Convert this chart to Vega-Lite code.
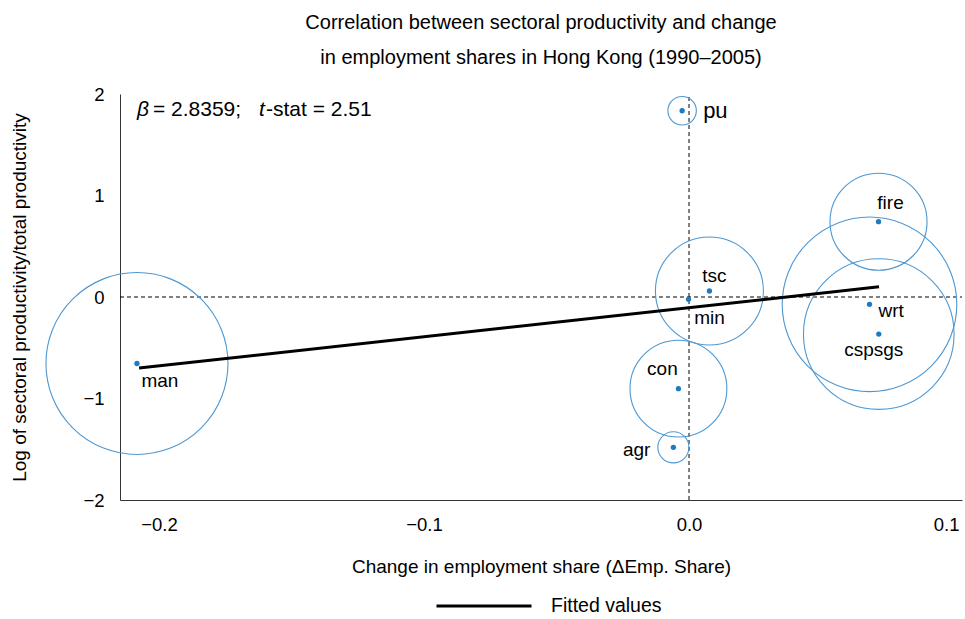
{
  "$schema": "https://vega.github.io/schema/vega-lite/v6.json",
  "width": 842,
  "height": 406,
  "autosize": "none",
  "padding": {"left": 120, "top": 94, "right": 3, "bottom": 119},
  "background": "white",
  "config": {
    "view": {"stroke": null},
    "axis": {"grid": false, "ticks": false, "domainColor": "#333", "domainWidth": 1, "labelColor": "#000", "titleColor": "#000", "labelFont": "Liberation Sans", "titleFont": "Liberation Sans", "labelFontSize": 18.5, "titleFontSize": 19, "titleFontWeight": "normal"}
  },
  "title": {
    "text": ["Correlation between sectoral productivity and change", "in employment shares in Hong Kong (1990–2005)"],
    "font": "Liberation Sans", "fontSize": 20, "fontWeight": "normal", "color": "#000", "lineHeight": 35, "offset": 17, "anchor": "middle"
  },
  "data": {"values": [
    {"sector": "man", "dEmp": -0.2083, "logProd": -0.655, "weight": 16.40},
    {"sector": "pu", "dEmp": -0.0026, "logProd": 1.835, "weight": 0.40},
    {"sector": "tsc", "dEmp": 0.0077, "logProd": 0.059, "weight": 5.77},
    {"sector": "min", "dEmp": -0.0002, "logProd": -0.023, "weight": 0.005},
    {"sector": "con", "dEmp": -0.0040, "logProd": -0.903, "weight": 4.64},
    {"sector": "agr", "dEmp": -0.0059, "logProd": -1.481, "weight": 0.48},
    {"sector": "fire", "dEmp": 0.0715, "logProd": 0.742, "weight": 4.66},
    {"sector": "wrt", "dEmp": 0.0681, "logProd": -0.072, "weight": 15.09},
    {"sector": "cspsgs", "dEmp": 0.0716, "logProd": -0.365, "weight": 11.23}
  ]},
  "encoding": {
    "x": {"field": "dEmp", "type": "quantitative",
      "scale": {"domain": [-0.2147, 0.103], "nice": false, "zero": false},
      "axis": {"values": [-0.2, -0.1, 0, 0.1], "labelExpr": "replace(format(datum.value, '.1f'), '-', '−')", "labelPadding": 15, "labelFlush": 10, "labelFlushOffset": 5, "title": "Change in employment share (ΔEmp. Share)", "titlePadding": 24}},
    "y": {"field": "logProd", "type": "quantitative",
      "scale": {"domain": [-2, 2], "nice": false, "zero": false},
      "axis": {"values": [-2, -1, 0, 1, 2], "labelExpr": "replace(format(datum.value, 'd'), '-', '−')", "labelPadding": 16, "labelFlush": false, "title": "Log of sectoral productivity/total productivity", "titlePadding": 53}}
  },
  "layer": [
    {"data": {"values": [{"dEmp": 0, "logProd": -2}, {"dEmp": 0, "logProd": 2}]}, "mark": {"type": "line", "color": "#000", "strokeWidth": 1, "strokeDash": [4, 3]}, "encoding": {}},
    {"data": {"values": [{"dEmp": -0.2147, "logProd": 0}, {"dEmp": 0.103, "logProd": 0}]}, "mark": {"type": "line", "color": "#000", "strokeWidth": 1, "strokeDash": [4, 3]}, "encoding": {}},
    {"mark": {"type": "point", "shape": "circle", "filled": false, "color": "#4e98d2", "strokeWidth": 1.1, "opacity": 1},
      "encoding": {"size": {"field": "weight", "type": "quantitative", "scale": {"type": "linear", "domain": [0, 20], "range": [0, 40400], "zero": true}, "legend": null}}},
    {"mark": {"type": "circle", "color": "#1e7bc0", "size": 28, "opacity": 1}},
    {"data": {"values": [{"dEmp": -0.2075, "fitted": -0.70}, {"dEmp": 0.0717, "fitted": 0.10}]},
      "mark": {"type": "line", "strokeWidth": 3},
      "encoding": {"y": {"field": "fitted", "type": "quantitative"},
        "color": {"datum": "Fitted values", "type": "nominal", "scale": {"domain": ["Fitted values"], "range": ["#000"]},
          "legend": {"title": null, "orient": "none", "legendX": 315, "legendY": 463, "symbolType": "stroke", "symbolSize": 9025, "symbolStrokeWidth": 3, "symbolStrokeColor": "#000", "labelFont": "Liberation Sans", "labelFontSize": 19.5, "labelColor": "#000", "labelOffset": 18}}}},
    {"transform": [{"filter": "datum.sector === 'pu'"}], "mark": {"type": "text", "align": "left", "baseline": "middle", "dx": 21, "dy": 0, "fontSize": 22, "font": "Liberation Sans", "color": "#000"}, "encoding": {"text": {"field": "sector"}}},
    {"transform": [{"filter": "datum.sector === 'wrt'"}], "mark": {"type": "text", "align": "left", "baseline": "middle", "dx": 9, "dy": 7, "fontSize": 19, "font": "Liberation Sans", "color": "#000"}, "encoding": {"text": {"field": "sector"}}},
    {"transform": [{"filter": "datum.sector === 'tsc'"}], "mark": {"type": "text", "align": "center", "baseline": "middle", "dx": 5, "dy": -15, "fontSize": 19, "font": "Liberation Sans", "color": "#000"}, "encoding": {"text": {"field": "sector"}}},
    {"transform": [{"filter": "datum.sector === 'fire'"}], "mark": {"type": "text", "align": "center", "baseline": "middle", "dx": 12, "dy": -19, "fontSize": 19, "font": "Liberation Sans", "color": "#000"}, "encoding": {"text": {"field": "sector"}}},
    {"transform": [{"filter": "datum.sector === 'con'"}], "mark": {"type": "text", "align": "center", "baseline": "middle", "dx": -16, "dy": -20, "fontSize": 19, "font": "Liberation Sans", "color": "#000"}, "encoding": {"text": {"field": "sector"}}},
    {"transform": [{"filter": "datum.sector === 'min'"}], "mark": {"type": "text", "align": "center", "baseline": "middle", "dx": 21, "dy": 19, "fontSize": 19, "font": "Liberation Sans", "color": "#000"}, "encoding": {"text": {"field": "sector"}}},
    {"transform": [{"filter": "datum.sector === 'man'"}], "mark": {"type": "text", "align": "center", "baseline": "middle", "dx": 23, "dy": 18, "fontSize": 19, "font": "Liberation Sans", "color": "#000"}, "encoding": {"text": {"field": "sector"}}},
    {"transform": [{"filter": "datum.sector === 'cspsgs'"}], "mark": {"type": "text", "align": "center", "baseline": "middle", "dx": -5, "dy": 16, "fontSize": 19, "font": "Liberation Sans", "color": "#000"}, "encoding": {"text": {"field": "sector"}}},
    {"transform": [{"filter": "datum.sector === 'agr'"}], "mark": {"type": "text", "align": "right", "baseline": "middle", "dx": -23, "dy": 3, "fontSize": 19, "font": "Liberation Sans", "color": "#000"}, "encoding": {"text": {"field": "sector"}}},
    {"data": {"values": [{"part": "β", "dEmp": -0.2083, "logProd": 1.842}]}, "mark": {"type": "text", "align": "left", "baseline": "middle", "fontSize": 21, "fontStyle": "italic", "font": "Liberation Sans", "color": "#000", "dx": 0}, "encoding": {"text": {"field": "part"}}},
    {"data": {"values": [{"part": "= 2.8359;", "dEmp": -0.2083, "logProd": 1.842}]}, "mark": {"type": "text", "align": "left", "baseline": "middle", "fontSize": 21, "font": "Liberation Sans", "color": "#000", "dx": 16}, "encoding": {"text": {"field": "part"}}},
    {"data": {"values": [{"part": "t", "dEmp": -0.2083, "logProd": 1.842}]}, "mark": {"type": "text", "align": "left", "baseline": "middle", "fontSize": 21, "fontStyle": "italic", "font": "Liberation Sans", "color": "#000", "dx": 122}, "encoding": {"text": {"field": "part"}}},
    {"data": {"values": [{"part": "-stat = 2.51", "dEmp": -0.2083, "logProd": 1.842}]}, "mark": {"type": "text", "align": "left", "baseline": "middle", "fontSize": 21, "font": "Liberation Sans", "color": "#000", "dx": 129}, "encoding": {"text": {"field": "part"}}}
  ]
}
